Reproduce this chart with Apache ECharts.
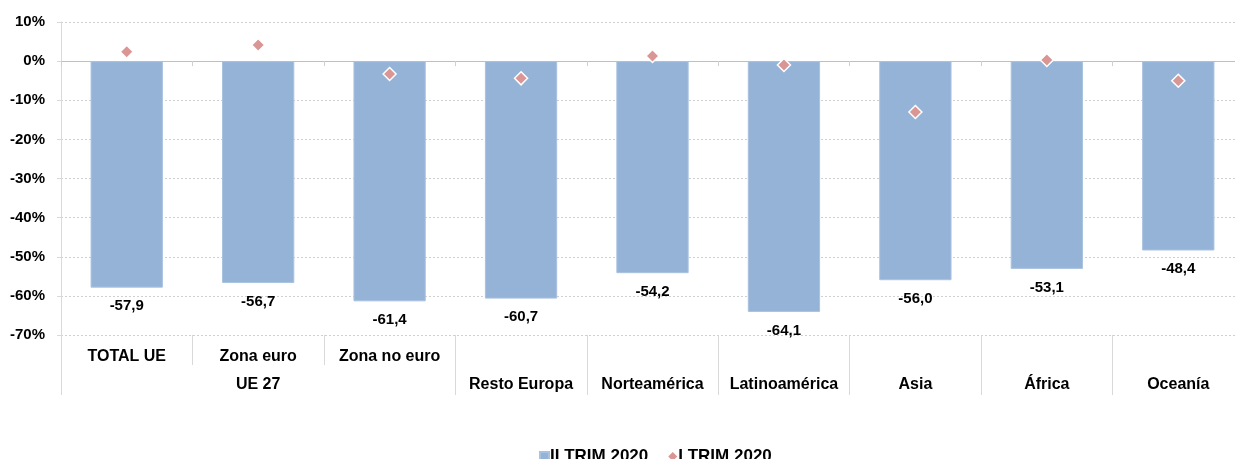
<!DOCTYPE html>
<html>
<head>
<meta charset="utf-8">
<script src="https://cdn.jsdelivr.net/npm/echarts@6/dist/echarts.min.js"></script>
<style>
html,body{margin:0;padding:0;background:#fff;}
#chart{width:1235px;height:459px;}
</style>
</head>
<body>
<div id="chart"></div>
<script>
const categories = ['TOTAL UE','Zona euro','Zona no euro','Resto Europa','Norteamérica','Latinoamérica','Asia','África','Oceanía'];
const groupLabels = {1: 'UE 27'};
const topRowCount = 3;
const seriesNames = ['II TRIM 2020','I TRIM 2020'];
const trim2 = [-57.9, -56.7, -61.4, -60.7, -54.2, -64.1, -56.0, -53.1, -48.4];
const trim1 = [2.4, 4.1, -3.3, -4.4, 1.3, -1.0, -13.0, 0.3, -5.0];
const yTicks = {min: -70, max: 10, interval: 10};

const FONT = "'Liberation Sans', Arial, sans-serif";
const chart = echarts.init(document.getElementById('chart'), null, {renderer: 'canvas'});

const option = {
  animation: false,
  backgroundColor: '#fff',
  grid: {left: 61, width: 1183, top: 22, bottom: 124, containLabel: false, outerBoundsMode: 'none'},
  legend: {
    top: 443,
    left: 534,
    itemGap: 20,
    itemWidth: 9,
    itemHeight: 9,
    textStyle: {fontFamily: FONT, fontSize: 17, fontWeight: 'bold', color: '#000', padding: [0,0,0,-4]},
    data: [
      {name: seriesNames[0], icon: 'rect'},
      {name: seriesNames[1], icon: 'diamond', itemStyle: {borderWidth: 0}}
    ]
  },
  xAxis: [
    {
      type: 'category',
      data: categories,
      position: 'bottom',
      boundaryGap: true,
      axisLine: {show: false, onZero: false},
      axisTick: {
        show: true,
        length: 60,
        lineStyle: {color: '#d9d9d9', width: 1},
        interval: function (idx) { return idx === 0 || idx >= topRowCount; }
      },
      axisLabel: {
        interval: 0,
        margin: 8,
        fontFamily: FONT,
        fontSize: 16,
        fontWeight: 'bold',
        color: '#000',
        lineHeight: 28,
        formatter: function (v, idx) {
          if (idx < topRowCount) {
            return groupLabels[idx] ? v + '\n' + groupLabels[idx] : v;
          }
          return '\n' + v;
        }
      },
      splitLine: {show: false}
    },
    {
      type: 'category',
      data: categories,
      position: 'bottom',
      boundaryGap: true,
      axisLine: {show: false, onZero: false},
      axisTick: {
        show: true,
        length: 30,
        lineStyle: {color: '#d9d9d9', width: 1},
        interval: function (idx) { return idx > 0 && idx < topRowCount; }
      },
      axisLabel: {show: false},
      splitLine: {show: false}
    },
    {
      type: 'category',
      data: categories,
      position: 'bottom',
      boundaryGap: true,
      axisLine: {show: true, onZero: true, lineStyle: {color: '#bfbfbf', width: 1}},
      axisTick: {show: true, length: 5, lineStyle: {color: '#d0d0d0', width: 1}},
      axisLabel: {show: false},
      splitLine: {show: false}
    }
  ],
  yAxis: {
    type: 'value',
    min: yTicks.min,
    max: yTicks.max,
    interval: yTicks.interval,
    axisLine: {show: true, lineStyle: {color: '#d9d9d9'}},
    axisTick: {show: true, length: 4, lineStyle: {color: '#d9d9d9'}},
    axisLabel: {
      margin: 16,
      fontFamily: FONT,
      fontSize: 15,
      fontWeight: 'bold',
      color: '#000',
      padding: [3, 0, 0, 0],
      formatter: function (v) { return v + '%'; }
    },
    splitLine: {show: true, lineStyle: {color: '#cfcfcf', type: [2, 2], width: 1}}
  },
  series: [
    {
      name: seriesNames[0],
      type: 'bar',
      xAxisIndex: 0,
      data: trim2,
      barWidth: '55%',
      itemStyle: {color: '#95b3d7', borderColor: '#a9c2e0', borderWidth: 1},
      label: {
        show: true,
        position: 'bottom',
        distance: 11,
        fontFamily: FONT,
        fontSize: 15,
        fontWeight: 'bold',
        color: '#000',
        formatter: function (p) { return p.value.toFixed(1).replace('.', ','); }
      },
      z: 2
    },
    {
      name: seriesNames[1],
      type: 'scatter',
      xAxisIndex: 0,
      data: trim1,
      symbol: 'diamond',
      symbolSize: 13,
      itemStyle: {color: '#d99694', borderColor: '#ffffff', borderWidth: 1.5, opacity: 1},
      z: 5
    }
  ]
};
chart.setOption(option);
</script>
</body>
</html>
